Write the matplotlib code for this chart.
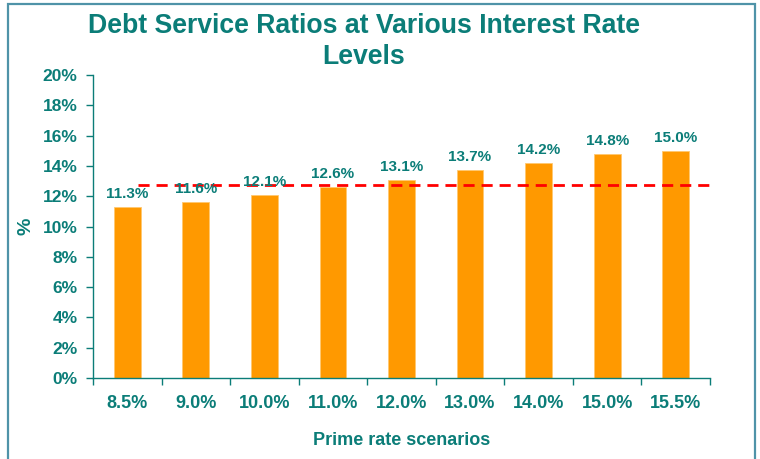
import matplotlib.pyplot as plt
from matplotlib.patches import Rectangle

scenarios = ['8.5%', '9.0%', '10.0%', '11.0%', '12.0%', '13.0%', '14.0%', '15.0%', '15.5%']
ratios = [11.3, 11.6, 12.1, 12.6, 13.1, 13.7, 14.2, 14.8, 15.0]
threshold = 12.75

teal = '#0b7d78'
orange = '#ff9900'

fig = plt.figure(figsize=(7.6, 4.59), dpi=100)
ax = fig.add_axes([0.1224, 0.1765, 0.8118, 0.66])

x = range(len(scenarios))
ax.bar(x, ratios, width=0.39, color=orange, edgecolor='#ffc870', linewidth=0.6, zorder=2)
for i, v in zip(x, ratios):
    ax.text(i, v + 0.4, f'{v:.1f}%', ha='center', va='bottom', fontsize=11,
            fontweight='bold', color=teal, family='Liberation Sans', zorder=4)

ax.hlines(threshold, 0.15, 8.55, colors='#ff0000', linestyles=(0, (4, 2.5)), linewidth=2, zorder=3)

ax.set_xlim(-0.5, len(scenarios) - 0.5)
ax.set_ylim(0, 20)
ax.set_yticks(range(0, 21, 2))
ax.set_yticklabels([f'{t}%' for t in range(0, 21, 2)])
ax.set_xticks(list(x))
ax.set_xticklabels(scenarios)
ax.set_xticks([i + 0.5 for i in range(-1, len(scenarios))], minor=True)
ax.tick_params(axis='x', which='major', length=0, pad=12)
ax.tick_params(axis='x', which='minor', length=5, color=teal, width=1)
ax.tick_params(axis='y', length=5, color=teal, width=1, pad=6)
for lab in ax.get_xticklabels():
    lab.set_fontsize(13)
for lab in ax.get_yticklabels():
    lab.set_fontsize(12.5)
for lab in ax.get_xticklabels() + ax.get_yticklabels():
    lab.set_fontweight('bold')
    lab.set_color(teal)
    lab.set_family('Liberation Sans')

for s in ['top', 'right']:
    ax.spines[s].set_visible(False)
for s in ['left', 'bottom']:
    ax.spines[s].set_color(teal)
    ax.spines[s].set_linewidth(1)

ax.set_xlabel('Prime rate scenarios', fontsize=13, fontweight='bold', color=teal,
              family='Liberation Sans', labelpad=15)
ax.set_ylabel('%', fontsize=14, fontweight='bold', color=teal, family='Liberation Sans', labelpad=6)

fig.text(0.479, 0.971, 'Debt Service Ratios at Various Interest Rate\nLevels', ha='center', va='top',
         fontsize=19.2, fontweight='bold', color=teal,
         family=['Liberation Sans Narrow', 'Liberation Sans'], linespacing=1.25)

border = Rectangle((8 / 760, -0.05), 747 / 760, 1 - 4 / 459 + 0.05, transform=fig.transFigure,
                   fill=False, edgecolor='#4f93a8', linewidth=1.6, clip_on=False)
fig.patches.append(border)

fig.savefig('out.png', dpi=100)
